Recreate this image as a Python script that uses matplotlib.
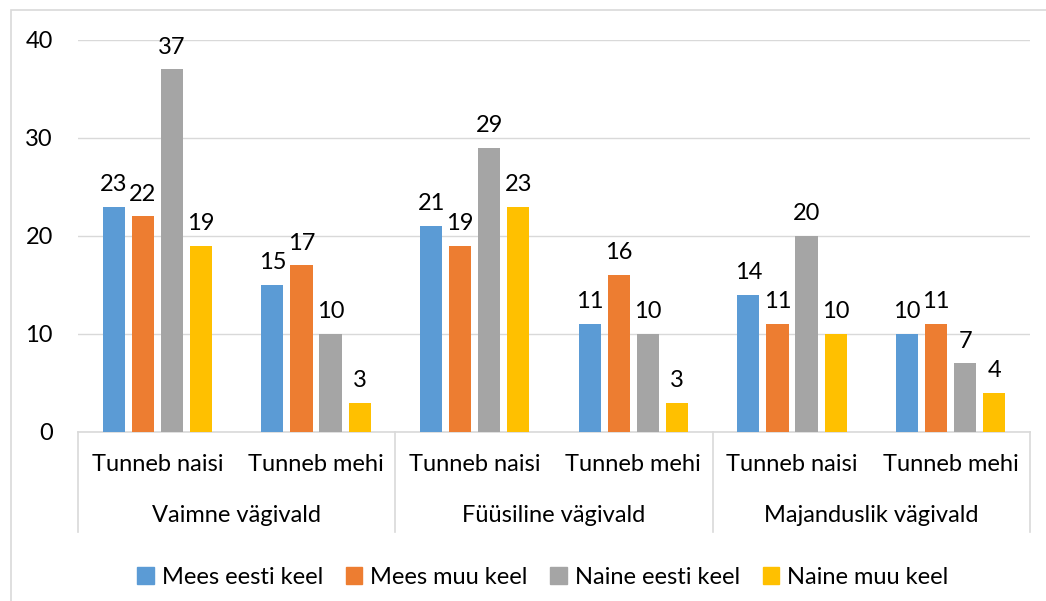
import matplotlib.pyplot as plt
from matplotlib.patches import Rectangle, Patch
import numpy as np

plt.rcParams['font.family'] = ['Lato', 'DejaVu Sans']

groups = ["Vaimne vägivald", "Füüsiline vägivald", "Majanduslik vägivald"]
subcats = ["Tunneb naisi", "Tunneb mehi"]
series = ["Mees eesti keel", "Mees muu keel", "Naine eesti keel", "Naine muu keel"]
colors = ["#5B9BD5", "#ED7D31", "#A5A5A5", "#FFC000"]

mees_eesti = [23, 15, 21, 11, 14, 10]
mees_muu = [22, 17, 19, 16, 11, 11]
naine_eesti = [37, 10, 29, 10, 20, 7]
naine_muu = [19, 3, 23, 3, 10, 4]
values = [mees_eesti, mees_muu, naine_eesti, naine_muu]

W, H = 1046, 601
fs = 17
fig = plt.figure(figsize=(W / 100, H / 100), dpi=100)
ax = fig.add_axes([78 / W, 169 / H, (1030 - 78) / W, 392 / H])

# outer chart border
fig.patches.append(Rectangle((11 / W, -0.05), 1.2, 1 - 10 / H + 0.05,
                             transform=fig.transFigure, fill=False,
                             edgecolor="#d9d9d9", linewidth=1.2))

n = len(mees_eesti)
x = np.arange(n) + 0.5
step = 0.183
width = 0.139
for i, (vals, col) in enumerate(zip(values, colors)):
    pos = x + (i - 1.5) * step
    ax.bar(pos, vals, width=width, color=col, zorder=3)
    for p, v in zip(pos, vals):
        ax.annotate(str(v), (p, v), xytext=(0, 8.5), textcoords="offset points",
                    ha="center", va="bottom", fontsize=fs, color="#000000")

ax.set_xlim(0, n)
ax.set_ylim(0, 40)
ax.set_yticks([0, 10, 20, 30, 40])
ax.yaxis.grid(True, color="#d9d9d9", linewidth=1.0, zorder=0)
ax.tick_params(axis="y", length=0, pad=18, labelsize=fs)
ax.set_xticks([])
for s in ["top", "right", "left"]:
    ax.spines[s].set_visible(False)
ax.spines["bottom"].set_color("#d9d9d9")
ax.spines["bottom"].set_linewidth(1.2)

tr = ax.get_xaxis_transform()
for i in range(n):
    ax.text(x[i], -0.084, subcats[i % 2], transform=tr, ha="center", va="center",
            fontsize=fs)
for g, name in enumerate(groups):
    ax.text(2 * g + 1, -0.214, name, transform=tr, ha="center", va="center",
            fontsize=fs)
for b in range(0, n + 1, 2):
    ax.plot([b, b], [0, -0.255], transform=tr, color="#d9d9d9", linewidth=1.2,
            clip_on=False)

handles = [Patch(color=c, label=s) for c, s in zip(colors, series)]
fig.legend(handles=handles, loc="center", bbox_to_anchor=(0.519, 24 / H), ncol=4,
           frameon=False, fontsize=fs, handlelength=0.7, handleheight=0.7,
           handletextpad=0.35, columnspacing=0.95)

fig.savefig("out.png", dpi=100)
